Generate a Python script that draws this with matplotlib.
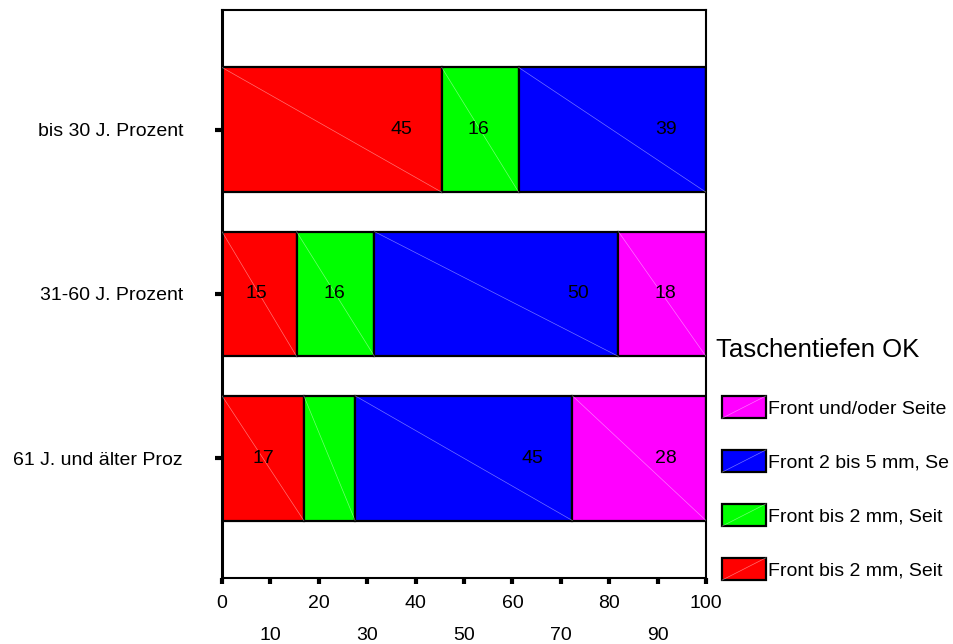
import matplotlib
matplotlib.use("Agg")
import matplotlib.pyplot as plt
from matplotlib.patches import Rectangle
from matplotlib.lines import Line2D
from matplotlib.legend_handler import HandlerPatch
import numpy as np

plt.rcParams['font.family'] = ['Liberation Sans', 'DejaVu Sans']

categories = ["bis 30 J. Prozent", "31-60 J. Prozent", "61 J. und älter Proz"]
series_names = ["Front bis 2 mm, Seit", "Front bis 2 mm, Seit",
                "Front 2 bis 5 mm, Se", "Front und/oder Seite"]
colors = ["#FF0000", "#00FF00", "#0000FF", "#FF00FF"]

# percent values per series (one entry per category)
red_vals = [45.4, 15.4, 16.9]
green_vals = [15.9, 16.1, 10.6]
blue_vals = [38.7, 50.4, 44.9]
magenta_vals = [0.0, 18.1, 27.6]
# shown labels (None = not shown)
red_labels = ["45", "15", "17"]
green_labels = ["16", "16", None]
blue_labels = ["39", "50", "45"]
magenta_labels = [None, "18", "28"]

legend_title = "Taschentiefen OK"
major_ticks = [0, 20, 40, 60, 80, 100]
minor_ticks = [10, 30, 50, 70, 90]

series = [red_vals, green_vals, blue_vals, magenta_vals]
labels = [red_labels, green_labels, blue_labels, magenta_labels]

FS = 14

fig = plt.figure(figsize=(9.54, 6.44), dpi=100)
ax = fig.add_axes([222/954, 1-578/644, (706-222)/954, (578-10)/644])

ypos = np.arange(len(categories))
bar_h = 0.76
left = np.zeros(len(categories))
handles = []
for vals, labs, col, name in zip(series, labels, colors, series_names):
    vals = np.array(vals)
    ax.barh(ypos, vals, left=left, height=bar_h, color=col,
            edgecolor='black', linewidth=1.6, zorder=2)
    for i, (v, l) in enumerate(zip(vals, left)):
        if v <= 0:
            continue
        ax.plot([l, l+v], [ypos[i]-bar_h/2, ypos[i]+bar_h/2], color='white',
                alpha=0.45, lw=0.5, zorder=3)
        if labs[i] is not None:
            ax.text(l+v-8.3, ypos[i], labs[i], ha='center', va='center',
                    fontsize=FS, color='black', zorder=4)
    left = left + vals
    handles.append(Rectangle((0, 0), 1, 1, facecolor=col, edgecolor='black'))

ax.set_xlim(0, 100)
ax.set_ylim(2.73, -0.73)
ax.set_yticks(ypos)
ax.set_yticklabels(categories, fontsize=FS)
ax.tick_params(axis='y', length=5, width=3, pad=23)
ax.set_xticks(major_ticks)
ax.set_xticklabels([str(t) for t in major_ticks], fontsize=FS)
ax.set_xticks(minor_ticks, minor=True)
ax.set_xticklabels([str(t) for t in minor_ticks], minor=True, fontsize=FS)
ax.tick_params(axis='x', which='major', length=4, width=3, pad=8)
ax.tick_params(axis='x', which='minor', length=4, width=3, pad=31.5)
for s in ax.spines.values():
    s.set_linewidth(1.5)
    s.set_color('black')
ax.spines['left'].set_linewidth(2.2)


class DiagHandler(HandlerPatch):
    def create_artists(self, legend, orig_handle, xdescent, ydescent,
                       width, height, fontsize, trans):
        p = Rectangle((-xdescent, -ydescent), width, height,
                      facecolor=orig_handle.get_facecolor(), edgecolor='black',
                      lw=1.6, transform=trans)
        ln = Line2D([-xdescent, -xdescent+width], [-ydescent, -ydescent+height],
                    color='white', alpha=0.45, lw=0.5, transform=trans)
        return [p, ln]


fig.text(716/954, 1-350/644, legend_title, fontsize=18.5, ha='left', va='center')
leg = fig.legend(handles[::-1], series_names[::-1], loc='upper left',
                 bbox_to_anchor=(718/954, 1-392/644), frameon=False,
                 fontsize=FS, borderpad=0.2, borderaxespad=0,
                 handlelength=2.27, handleheight=1.4,
                 handletextpad=0.1, labelspacing=1.62,
                 handler_map={Rectangle: DiagHandler()})

fig.savefig("out.png", dpi=100)
